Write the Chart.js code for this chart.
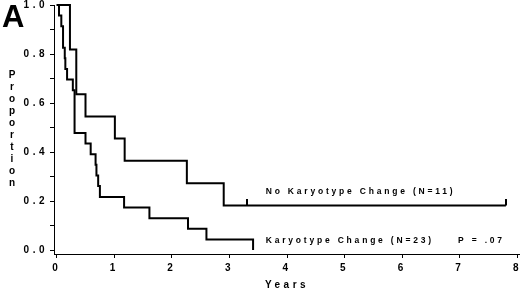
<!DOCTYPE html>
<html>
<head>
<meta charset="utf-8">
<script src="https://cdn.jsdelivr.net/npm/chart.js@4/dist/chart.umd.min.js"></script>
<style>
  html, body { margin: 0; padding: 0; background: #fff; }
</style>
</head>
<body>
<canvas id="km" width="520" height="291"></canvas>
<script>
// Kaplan-Meier steps: (year of event, proportion after it)
const noChangeYears    = [0, 0.23, 0.34, 0.50, 1.01, 1.18, 2.26, 2.90, 7.80];
const noChangeSurvival = [1.0, 0.818, 0.636, 0.545, 0.455, 0.364, 0.273, 0.182, 0.182];

const changeYears    = [0, 0.04, 0.08, 0.11, 0.14, 0.15, 0.18, 0.28, 0.31, 0.50, 0.59, 0.675, 0.69, 0.72, 0.75, 1.17, 1.61, 2.28, 2.60, 3.41];
const changeSurvival = [1.0, 0.957, 0.913, 0.826, 0.783, 0.739, 0.696, 0.652, 0.478, 0.435, 0.391, 0.348, 0.304, 0.261, 0.217, 0.174, 0.130, 0.087, 0.043, 0.0];

// censored observations (small upward ticks)
const noChangeCensorYears = [3.30, 7.80];
const noChangeCensorSurvival = [0.182, 0.182];

const xTicks = [0, 1, 2, 3, 4, 5, 6, 7, 8];
const yTicks = [0, 0.1, 0.2, 0.3, 0.4, 0.5, 0.6, 0.7, 0.8, 0.9, 1.0];
const yTickLabels = ['0.0', '', '0.2', '', '0.4', '', '0.6', '', '0.8', '', '1.0'];

const yAxisTitle = 'Proportion';
const xAxisTitle = 'Years';
const panelLetter = 'A';
const noChangeLabel = 'No Karyotype Change (N=11)';
const changeLabel = 'Karyotype Change (N=23)';
const pValueLabel = 'P = .07';

const toPoints = (xs, ys) => xs.map((x, i) => ({ x: x, y: ys[i] }));

// censor mark: a short vertical stroke sitting on top of the curve
const censorMark = document.createElement('canvas');
censorMark.width = 2;
censorMark.height = 12;
censorMark.getContext('2d').fillRect(0, 0, 2, 6);

const boldFont = (size) => ({ family: '"Liberation Sans", Arial, sans-serif', size: size, weight: 'bold' });

const spacingPlugin = {
    id: 'spacing',
    beforeDraw(chart) {
        chart.ctx.letterSpacing = '3.5px';
    }
};

const annotationPlugin = {
    id: 'annotations',
    afterDraw(chart) {
        const ctx = chart.ctx;
        const xs = chart.scales.x;
        const ys = chart.scales.y;
        ctx.save();
        ctx.fillStyle = '#000';

        // panel letter
        ctx.letterSpacing = '0px';
        ctx.font = 'bold 31px "Liberation Sans", Arial, sans-serif';
        ctx.textAlign = 'left';
        ctx.textBaseline = 'alphabetic';
        ctx.fillText(panelLetter, 2, 27);

        // stacked y-axis title
        ctx.font = 'bold 10px "Liberation Sans", Arial, sans-serif';
        ctx.textAlign = 'center';
        ctx.textBaseline = 'middle';
        yAxisTitle.split('').forEach((ch, i) => ctx.fillText(ch, 12, 75 + i * 12));

        // curve labels
        ctx.letterSpacing = '2.8px';
        ctx.font = 'bold 8.5px "Liberation Sans", Arial, sans-serif';
        ctx.textAlign = 'left';
        ctx.fillText(noChangeLabel, xs.getPixelForValue(3.63), ys.getPixelForValue(0.24));
        ctx.fillText(changeLabel, xs.getPixelForValue(3.63), ys.getPixelForValue(0.04));
        ctx.fillText(pValueLabel, xs.getPixelForValue(6.97), ys.getPixelForValue(0.04));
        ctx.restore();
    }
};

new Chart(document.getElementById('km'), {
    type: 'line',
    data: {
        datasets: [
            {
                label: noChangeLabel,
                data: toPoints(noChangeYears, noChangeSurvival),
                borderColor: '#000',
                borderWidth: 2,
                pointRadius: 0,
                stepped: 'before',
                clip: false
            },
            {
                label: changeLabel,
                data: toPoints(changeYears, changeSurvival),
                borderColor: '#000',
                borderWidth: 2,
                pointRadius: 0,
                stepped: 'before',
                clip: false
            },
            {
                label: 'censored',
                data: toPoints(noChangeCensorYears, noChangeCensorSurvival),
                showLine: false,
                pointStyle: censorMark,
                pointRadius: 6,
                clip: false
            }
        ]
    },
    options: {
        responsive: false,
        animation: false,
        devicePixelRatio: 1,
        layout: { autoPadding: false, padding: { top: 5, right: 0, left: 0, bottom: 0 } },
        plugins: {
            legend: { display: false },
            tooltip: { enabled: false }
        },
        scales: {
            x: {
                type: 'linear',
                min: -0.047,
                max: 8.045,
                afterBuildTicks: (scale) => { scale.ticks = xTicks.map(v => ({ value: v })); },
                afterFit: (scale) => {
                    scale.height = 37;
                    scale.paddingLeft = 0;
                    scale.paddingRight = 0;
                },
                ticks: {
                    color: '#000',
                    font: boldFont(10),
                    padding: 4,
                    maxRotation: 0,
                    autoSkip: false
                },
                grid: { drawOnChartArea: false, tickLength: 4, color: '#000', lineWidth: 1 },
                border: { color: '#000', width: 1 },
                title: {
                    display: true,
                    text: xAxisTitle,
                    color: '#000',
                    font: boldFont(10),
                    padding: 0
                }
            },
            y: {
                min: -0.016,
                max: 1.0,
                afterBuildTicks: (scale) => { scale.ticks = yTicks.map(v => ({ value: v })); },
                afterFit: (scale) => {
                    scale.width = 54;
                    scale.paddingTop = 0;
                    scale.paddingBottom = 0;
                },
                ticks: {
                    color: '#000',
                    font: boldFont(10),
                    padding: 2,
                    autoSkip: false,
                    callback: (value, index) => yTickLabels[index]
                },
                grid: { drawOnChartArea: false, tickLength: 4, color: '#000', lineWidth: 1 },
                border: { color: '#000', width: 1 }
            }
        }
    },
    plugins: [spacingPlugin, annotationPlugin]
});
</script>
</body>
</html>
